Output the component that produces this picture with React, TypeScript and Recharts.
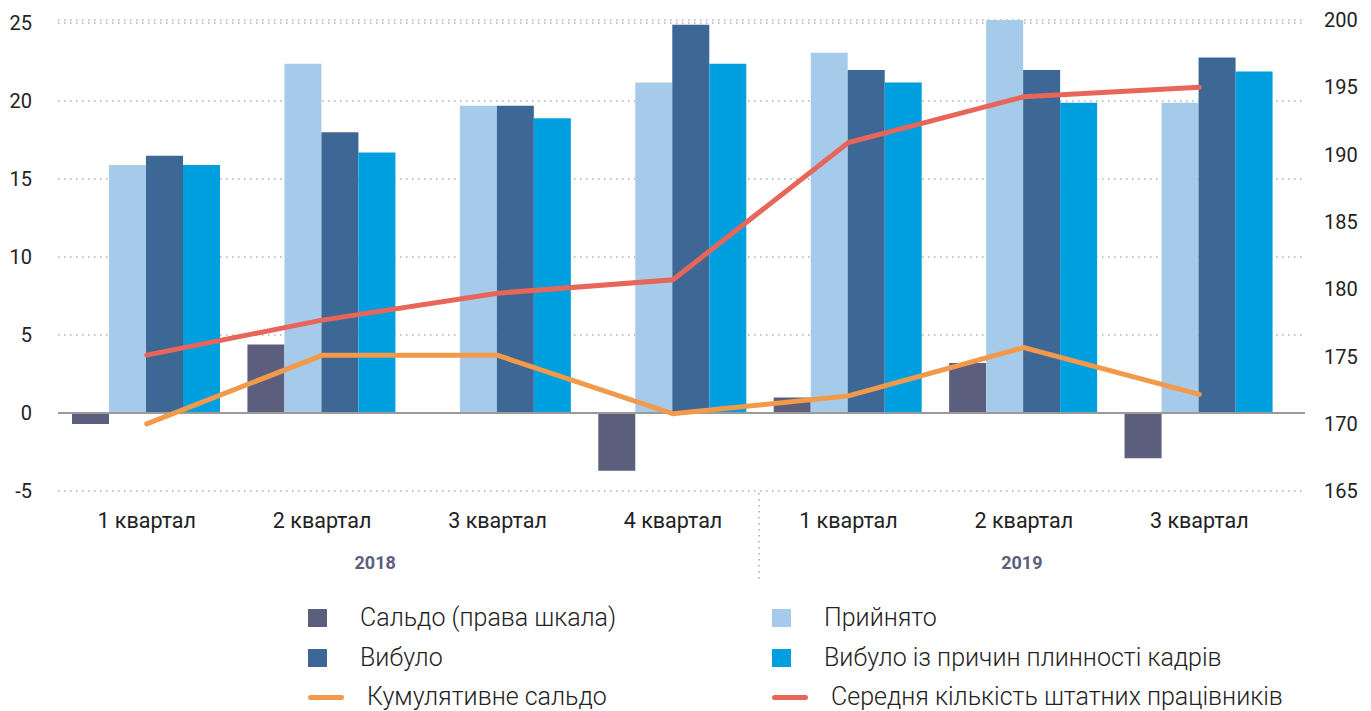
import React from "react";
import {
    ComposedChart,
    Bar,
    Line,
    XAxis,
    YAxis,
    CartesianGrid,
    ReferenceLine,
    Legend,
} from "recharts";

const quarters = ["1 квартал", "2 квартал", "3 квартал", "4 квартал", "1 квартал", "2 квартал", "3 квартал"];
const saldo = [-0.7, 4.4, 0, -3.7, 1.0, 3.2, -2.9];
const hired = [15.9, 22.4, 19.7, 21.2, 23.1, 25.2, 19.9];
const left = [16.5, 18.0, 19.7, 24.9, 22.0, 22.0, 22.8];
const leftTurnover = [15.9, 16.7, 18.9, 22.4, 21.2, 19.9, 21.9];
const cumulative = [-0.7, 3.7, 3.7, -0.05, 1.1, 4.2, 1.2];
const staff = [175.1, 177.7, 179.7, 180.7, 190.9, 194.3, 195.0];

const leftTicks = [-5, 0, 5, 10, 15, 20, 25];
const rightTicks = [165, 170, 175, 180, 185, 190, 195, 200];

const COLORS = {
    saldo: "#5b5e7c",
    hired: "#a6cbea",
    left: "#3d6896",
    turnover: "#009fe0",
    cumulative: "#f2994a",
    staff: "#e8655a",
};

const data = quarters.map((q, i) => ({
    label: q,
    saldo: saldo[i],
    hired: hired[i],
    left: left[i],
    turnover: leftTurnover[i],
    cumulative: cumulative[i],
    staff: staff[i],
}));

const FONT = "Roboto, 'DejaVu Sans', sans-serif";

const QuarterTick = (props: any) => {
    const { x, y, payload, index } = props;
    return (
        <g>
            <text x={x} y={y + 35} textAnchor="middle" fontSize={21.5} fontFamily={FONT} fill="#222">
                {payload.value}
            </text>
            {index === 1 && (
                <text x={x + 53} y={y + 76} textAnchor="middle" fontSize={18} fontWeight={700} fontFamily={FONT} fill="#5b5e7c">
                    2018
                </text>
            )}
            {index === 3 && (
                <line x1={x + 86} x2={x + 86} y1={y} y2={y + 88} stroke="#aaa" strokeWidth={1.5} strokeDasharray="1.5 4.5" />
            )}
            {index === 5 && (
                <text x={x - 2} y={y + 76} textAnchor="middle" fontSize={18} fontWeight={700} fontFamily={FONT} fill="#5b5e7c">
                    2019
                </text>
            )}
        </g>
    );
};

const legendItems = [
    { label: "Сальдо (права шкала)", color: COLORS.saldo, type: "square", col: 0, row: 0 },
    { label: "Прийнято", color: COLORS.hired, type: "square", col: 1, row: 0 },
    { label: "Вибуло", color: COLORS.left, type: "square", col: 0, row: 1 },
    { label: "Вибуло із причин плинності кадрів", color: COLORS.turnover, type: "square", col: 1, row: 1 },
    { label: "Кумулятивне сальдо", color: COLORS.cumulative, type: "line", col: 0, row: 2 },
    { label: "Середня кількість штатних працівників", color: COLORS.staff, type: "line", col: 1, row: 2 },
];

const rowCenters = [17, 57, 96];
const colMarker = [300, 764];

const ChartLegend = () => (
    <div style={{ position: "relative", width: 1355, height: 110, fontFamily: FONT }}>
        {legendItems.map((it) => {
            const cy = rowCenters[it.row];
            const mx = colMarker[it.col];
            const isLine = it.type === "line";
            return (
                <div key={it.label}>
                    <div
                        style={{
                            position: "absolute",
                            left: mx,
                            top: isLine ? cy - 2.5 : cy - 9,
                            width: isLine ? 36 : 19,
                            height: isLine ? 5 : 18,
                            borderRadius: isLine ? 3 : 0,
                            background: it.color,
                        }}
                    />
                    <div
                        style={{
                            position: "absolute",
                            left: mx + (isLine ? 59 : 52),
                            top: cy - 16,
                            height: 32,
                            lineHeight: "32px",
                            fontSize: 25,
                            fontWeight: 300,
                            color: "#222",
                            whiteSpace: "nowrap",
                        }}
                    >
                        {it.label}
                    </div>
                </div>
            );
        })}
    </div>
);

const App: React.FC = () => {
    return (
        <ComposedChart
            width={1355}
            height={703}
            data={data}
            margin={{ top: 12, right: 0, left: 0, bottom: 0 }}
            barCategoryGap={13}
            barGap={0}
        >
            <CartesianGrid yAxisId="left" vertical={false} stroke="#b0b0b0" strokeWidth={1.5} strokeDasharray="1.5 4.5" />
            <XAxis
                dataKey="label"
                height={110}
                interval={0}
                axisLine={false}
                tickLine={false}
                tickSize={0}
                tick={<QuarterTick />}
                padding={{ left: 1, right: 18 }}
            />
            <YAxis
                yAxisId="left"
                width={50}
                domain={[-5, 25]}
                ticks={leftTicks}
                axisLine={false}
                tickLine={false}
                tickSize={0}
                tickMargin={26}
                tick={{ fontSize: 20, fill: "#222", fontFamily: FONT }}
            />
            <YAxis
                yAxisId="right"
                orientation="right"
                width={58}
                domain={[165, 200]}
                ticks={rightTicks}
                axisLine={false}
                tickLine={false}
                tickSize={0}
                tickMargin={19}
                tick={{ fontSize: 20, fill: "#222", fontFamily: FONT, textAnchor: "start" }}
            />
            <Legend verticalAlign="bottom" content={<ChartLegend />} wrapperStyle={{ left: 0, width: 1355, height: 110 }} />
            <Bar yAxisId="left" dataKey="saldo" name="Сальдо (права шкала)" fill={COLORS.saldo} isAnimationActive={false} />
            <Bar yAxisId="left" dataKey="hired" name="Прийнято" fill={COLORS.hired} isAnimationActive={false} />
            <Bar yAxisId="left" dataKey="left" name="Вибуло" fill={COLORS.left} isAnimationActive={false} />
            <Bar yAxisId="left" dataKey="turnover" name="Вибуло із причин плинності кадрів" fill={COLORS.turnover} isAnimationActive={false} />
            <ReferenceLine yAxisId="left" y={0} stroke="#9a9a9a" strokeWidth={2} />
            <Line
                yAxisId="left"
                type="linear"
                dataKey="cumulative"
                name="Кумулятивне сальдо"
                stroke={COLORS.cumulative}
                strokeWidth={5}
                strokeLinecap="round"
                dot={false}
                activeDot={false}
                isAnimationActive={false}
            />
            <Line
                yAxisId="right"
                type="linear"
                dataKey="staff"
                name="Середня кількість штатних працівників"
                stroke={COLORS.staff}
                strokeWidth={5}
                strokeLinecap="round"
                dot={false}
                activeDot={false}
                isAnimationActive={false}
            />
        </ComposedChart>
    );
};

export default App;
